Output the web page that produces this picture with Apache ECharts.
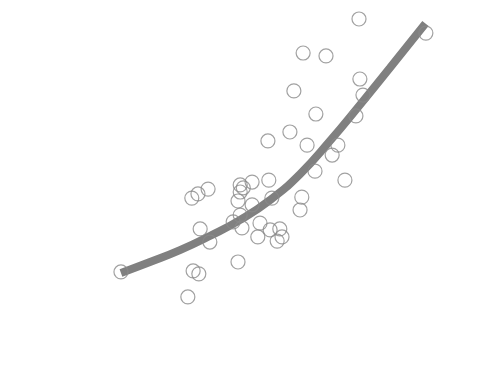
<!DOCTYPE html>
<html>
<head>
<meta charset="utf-8">
<script src="https://cdn.jsdelivr.net/npm/echarts@6/dist/echarts.min.js"></script>
<style>html,body{margin:0;padding:0;background:#fff}#c{width:500px;height:371px}</style>
</head>
<body>
<div id="c"></div>
<script>
// Scatter observations [x, y]
var pointsX = [72.5,87.7,59.8,65.0,72.7,57.7,73.4,62.7,71.8,56.8,51.8,60.7,67.7,66.4,62.5,69.3,
  34.5,35.9,38.2,45.5,48.2,52.0,45.5,45.0,48.2,52.7,59.5,59.1,36.4,38.6,45.5,43.9,45.9,50.0,52.3,54.5,49.5,53.9,55.0,
  18.4,45.0,34.8,36.1,33.6,46.2];
var pointsY = [97.2,92.8,86.6,85.7,78.5,74.8,73.5,67.6,67.0,62.0,59.2,57.9,57.9,54.8,49.8,47.0,
  41.4,42.7,44.2,45.5,46.4,47.0,43.3,40.5,39.3,41.4,41.7,37.7,31.8,27.7,36.1,34.0,32.1,33.6,31.5,31.8,29.3,28.0,29.3,
  18.4,21.5,18.7,17.8,10.6,44.6];
// Fitted trend curve
var fitX = [18.4,25.0,31.8,38.6,45.5,52.3,59.1,65.9,72.7,79.5,87.6];
var fitY = [18.1,21.5,25.2,29.6,34.6,40.8,48.9,59.2,70.4,81.9,95.8];

var scatterData = pointsX.map(function(x,i){return [x, pointsY[i]];});
var fitData = fitX.map(function(x,i){return [x, fitY[i]];});

var chart = echarts.init(document.getElementById('c'));
chart.setOption({
  backgroundColor:'#fff',
  animation:false,
  grid:{left:40,right:20,top:10,bottom:40},
  xAxis:{type:'value',min:0,max:100,interval:20,
    axisLine:{show:false},axisTick:{show:false},splitLine:{show:false},
    axisLabel:{color:'#fff'}},
  yAxis:{type:'value',min:0,max:100,interval:20,
    axisLine:{show:false},axisTick:{show:false},splitLine:{show:false},
    axisLabel:{color:'#fff'}},
  series:[
    {type:'line',data:fitData,smooth:true,symbol:'none',
     lineStyle:{color:'#808080',width:8,cap:'butt'},z:2},
    {type:'scatter',data:scatterData,symbol:'circle',symbolSize:14,
     itemStyle:{color:'rgba(0,0,0,0)',borderColor:'#8a8a8a',borderWidth:1.2},z:3}
  ]
});
</script>
</body>
</html>
